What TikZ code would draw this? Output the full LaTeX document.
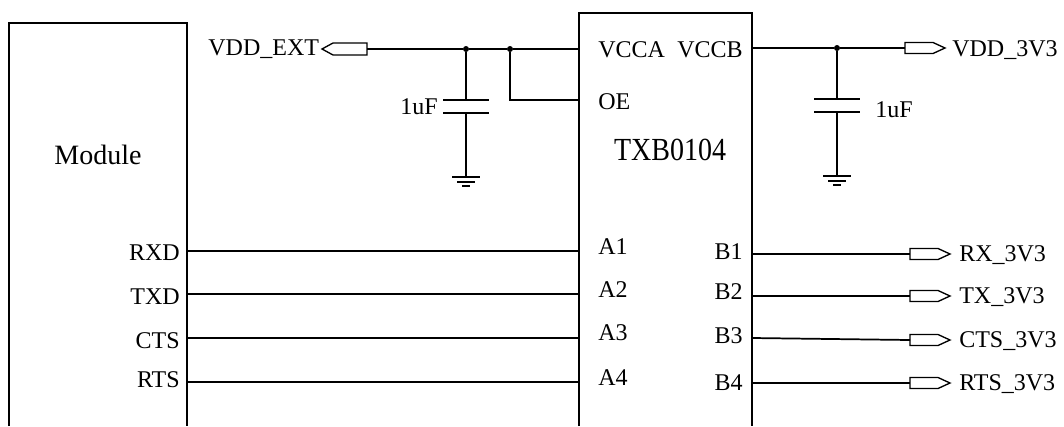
\documentclass[tikz,border=0pt]{standalone}
\usepackage{fontspec}
\setmainfont{Liberation Serif}
\begin{document}
\begin{tikzpicture}[x=0.75pt,y=-0.75pt,
  box/.style={line width=1.7pt},
  wire/.style={line width=1.3pt},
  pin/.style={font=\fontsize{18}{20}\selectfont, inner sep=0pt},
  title/.style={font=\fontsize{21}{24}\selectfont, inner sep=0pt},
  dotn/.style={circle, fill, inner sep=0pt, minimum size=4.5pt},
  portline/.style={line width=1pt},
  outport/.pic={
    \draw[portline] (0,-5.5) -- (28,-5.5) -- (40,0) -- (28,5.5) -- (0,5.5) -- cycle;
    \coordinate (-in) at (0,0);
    \coordinate (-tip) at (40,0);},
  inport/.pic={
    \draw[portline] (0,-6) -- (-34,-6) -- (-45,0) -- (-34,6) -- (0,6) -- cycle;
    \coordinate (-in) at (0,0);
    \coordinate (-tip) at (-45,0);},
  capgnd/.pic={
    \draw[wire] (-23,0) -- (23,0);
    \draw[wire] (-23,13) -- (23,13);
    \draw[wire] (0,13) -- (0,77);
    \draw[wire] (-14,77) -- (14,77);
    \draw[wire] (-9,82) -- (9,82);
    \draw[wire] (-4,86) -- (4,86);
    \coordinate (-top) at (0,0);}
]
\useasboundingbox (0,0) rectangle (1064,426);

% Module block
\draw[box] (9,426) |- (187,23) -- (187,426);
\node[title] (module) at (98,155) {Module};
\node[pin, anchor=east] (rxd) at (180,253) {RXD};
\node[pin, anchor=east] (txd) at (180,297) {TXD};
\node[pin, anchor=east] (cts) at (180,341) {CTS};
\node[pin, anchor=east] (rts) at (180,380) {RTS};
\coordinate (m1) at (187,251);
\coordinate (m2) at (187,294);
\coordinate (m3) at (187,338);
\coordinate (m4) at (187,382);

% TXB0104 block
\draw[box] (579,426) |- (752,13) -- (752,426);
\node[title] (txb) at (670,150) {\scalebox{1}[1.15]{TXB0104}};
\node[pin, anchor=west] (vcca) at (598,50) {VCCA};
\node[pin, anchor=east] (vccb) at (743,50) {VCCB};
\node[pin, anchor=west] (oe) at (598,102) {OE};
\node[pin, anchor=west] (a1) at (598,247) {A1};
\node[pin, anchor=west] (a2) at (598,290) {A2};
\node[pin, anchor=west] (a3) at (598,333) {A3};
\node[pin, anchor=west] (a4) at (598,378) {A4};
\node[pin, anchor=east] (b1) at (743,252) {B1};
\node[pin, anchor=east] (b2) at (743,292) {B2};
\node[pin, anchor=east] (b3) at (743,336) {B3};
\node[pin, anchor=east] (b4) at (743,383) {B4};
\coordinate (pvcca) at (579,49);
\coordinate (pvccb) at (752,48);
\coordinate (poe) at (579,100);
\coordinate (ta1) at (579,251);
\coordinate (ta2) at (579,294);
\coordinate (ta3) at (579,338);
\coordinate (ta4) at (579,382);
\coordinate (tb1) at (752,254);
\coordinate (tb2) at (752,296);
\coordinate (tb3) at (752,338);
\coordinate (tb4) at (752,383);

% A-side wires
\draw[wire] (m1) -- (ta1);
\draw[wire] (m2) -- (ta2);
\draw[wire] (m3) -- (ta3);
\draw[wire] (m4) -- (ta4);

% VDD_EXT side
\pic (pext) at (367,49) {inport};
\node[pin, anchor=east] (vddext) at ([xshift=-2pt]pext-tip) {VDD\_EXT};
\node[dotn] (j1) at (466,49) {};
\node[dotn] (j2) at (510,49) {};
\pic (c1) at (466,100) {capgnd};
\node[pin, anchor=east] (c1lab) at (438,107) {1uF};
\draw[wire] (pext-in) -- (j1) -- (j2) -- (pvcca);
\draw[wire] (j2) |- (poe);
\draw[wire] (j1) -- (c1-top);

% VDD_3V3 side
\pic (pvdd) at (905,48) {outport};
\node[pin, anchor=west] (vdd3) at (952,50) {VDD\_3V3};
\node[dotn] (j3) at (837,48) {};
\pic (c2) at (837,99) {capgnd};
\node[pin, anchor=west] (c2lab) at (875,110) {1uF};
\draw[wire] (pvccb) -- (j3) -- (pvdd-in);
\draw[wire] (j3) -- (c2-top);

% B-side outputs
\pic (prx) at (910,254) {outport};
\pic (ptx) at (910,296) {outport};
\pic (pcts) at (910,340) {outport};
\pic (prts) at (910,383) {outport};
\draw[wire] (tb1) -- (prx-in);
\draw[wire] (tb2) -- (ptx-in);
\draw[wire] (tb3) -- (pcts-in);
\draw[wire] (tb4) -- (prts-in);
\node[pin, anchor=west] (rx3) at (959,255) {RX\_3V3};
\node[pin, anchor=west] (tx3) at (959,297) {TX\_3V3};
\node[pin, anchor=west] (cts3) at (959,341) {CTS\_3V3};
\node[pin, anchor=west] (rts3) at (959,384) {RTS\_3V3};
\end{tikzpicture}
\end{document}
